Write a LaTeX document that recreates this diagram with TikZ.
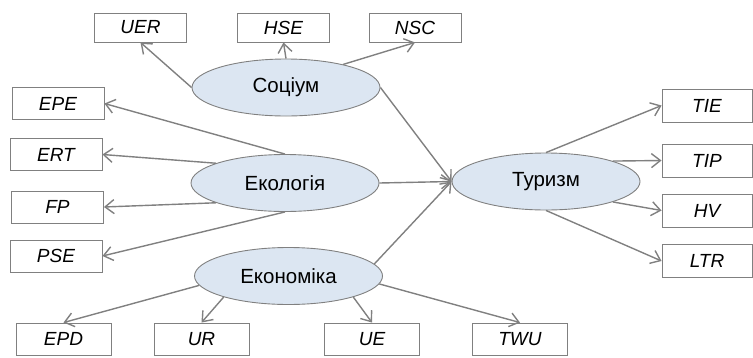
\documentclass[tikz,border=0pt]{standalone}
\usepackage{fontspec}
\setmainfont{Liberation Sans}
\usetikzlibrary{arrows.meta, shapes.geometric}

\definecolor{linegray}{RGB}{128,128,128}
\definecolor{ovalfill}{RGB}{220,230,242}

\begin{document}
\begin{tikzpicture}[
  x=1pt, y=-1pt,
  box/.style={rectangle, draw=linegray, fill=white, line width=0.9pt,
              minimum width=92pt, minimum height=32pt, inner sep=0pt,
              font=\fontsize{19}{22}\selectfont\itshape},
  factor/.style={ellipse, draw=linegray, fill=ovalfill, line width=0.9pt,
                 minimum width=188pt, minimum height=57pt, inner sep=0pt,
                 font=\fontsize{20.5}{24}\selectfont},
  arrow/.style={-{Straight Barb[length=9pt, width=14pt]}, draw=linegray, line width=1.4pt},
]
  \useasboundingbox (0,0) rectangle (753,357);

  % factors
  \node[factor] (socium)  at (286,87.5)  {Соціум};
  \node[factor] (ecology) at (285,183)   {Екологія};
  \node[factor] (economy) at (288.5,276) {Економіка};
  \node[factor] (tourism) at (546,181.5) {Туризм};

  % indicators
  \node[box, minimum height=29pt] (uer) at (140.5,27.5) {UER};
  \node[box, minimum height=29pt] (hse) at (283.5,27.5) {HSE};
  \node[box, minimum height=29pt] (nsc) at (415,27.5)   {NSC};

  \node[box] (epe) at (58,103.5) {EPE};
  \node[box] (ert) at (56,154.5) {ERT};
  \node[box] (fp)  at (57.5,207) {FP};
  \node[box] (pse) at (56,256)   {PSE};

  \node[box, minimum width=90pt, minimum height=33pt] (tie) at (707,105.5) {TIE};
  \node[box, minimum width=90pt, minimum height=33pt] (tip) at (707,160.5) {TIP};
  \node[box, minimum width=90pt, minimum height=33pt] (hv)  at (707,210.5) {HV};
  \node[box, minimum width=90pt, minimum height=33pt] (ltr) at (707,261)   {LTR};

  \node[box, minimum width=95pt] (epd) at (63.5,339)  {EPD};
  \node[box, minimum width=95pt] (ur)  at (201.5,339) {UR};
  \node[box, minimum width=95pt] (ue)  at (372,339)   {UE};
  \node[box, minimum width=95pt] (twu) at (520,339)   {TWU};

  % connectors
  \draw[arrow] (socium.west) -- (uer.south);
  \draw[arrow] (socium.north) -- (hse.south);
  \draw[arrow] (socium.22) -- (nsc.south);
  \draw[arrow] (socium.east) -- (tourism.west);

  \draw[arrow] (ecology.north) -- (epe.east);
  \draw[arrow] (ecology.164) -- (ert.east);
  \draw[arrow] (ecology.196) -- (fp.east);
  \draw[arrow] (ecology.south) -- (pse.east);
  \draw[arrow] (ecology.east) -- (tourism.west);

  \draw[arrow] (economy.8) -- (tourism.west);
  \draw[arrow] (economy.186) -- (epd.north);
  \draw[arrow] (economy.198) -- (ur.north);
  \draw[arrow] (economy.342) -- (ue.north);
  \draw[arrow] (economy.355) -- (twu.north);

  \draw[arrow] (tourism.north) -- (tie.west);
  \draw[arrow] (tourism.17) -- (tip.west);
  \draw[arrow] (tourism.343) -- (hv.west);
  \draw[arrow] (tourism.south) -- (ltr.west);
\end{tikzpicture}
\end{document}
